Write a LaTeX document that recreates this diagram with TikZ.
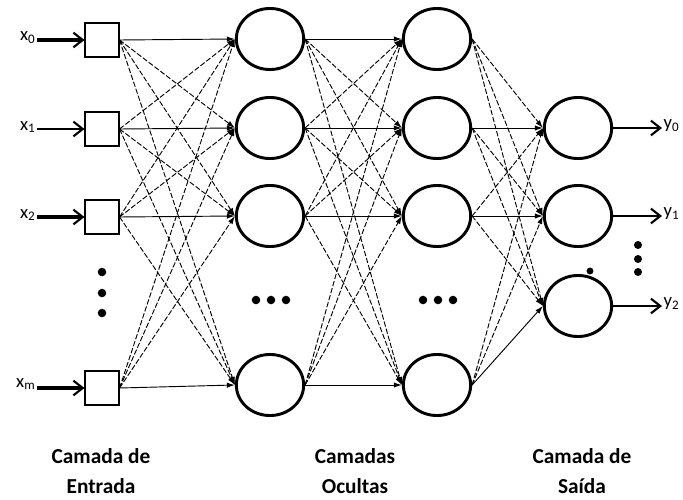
\documentclass[tikz,border=0pt]{standalone}
\usepackage{fontspec}
\setmainfont{Carlito}
\usetikzlibrary{shapes.geometric,arrows.meta}

\tikzset{
  eingang/.style={draw, line width=1.5pt, minimum size=24.8pt, inner sep=0pt},
  neuron/.style={draw, ellipse, line width=2.2pt, minimum width=50.5pt, minimum height=45.8pt, inner sep=0pt},
  verb/.style={line width=0.7pt, -{Latex[length=6pt,width=4pt]}},
  gestrichelt/.style={verb, dash pattern=on 4pt off 1.5pt},
  pfeil/.style={-{Straight Barb[length=7pt,width=11pt,line width=1.6pt]}},
  beschr/.style={font=\fontsize{14}{16}\selectfont, inner sep=1pt},
  schicht/.style={align=center, font=\bfseries\fontsize{16}{22.5}\selectfont}
}

\begin{document}
\begin{tikzpicture}[x=0.75pt, y=-0.75pt]
    \useasboundingbox (0,0) rectangle (683,500);
    % Eingangsschicht
    \foreach \i/\y in {0/40, 1/129, 2/217, 3/388}
        \node[eingang] (e\i) at (102,\y) {};
    % versteckte Schichten
    \foreach \i/\y in {0/39, 1/128, 2/216, 3/385} {
        \node[neuron] (h\i) at (270,\y) {};
        \node[neuron] (k\i) at (437,\y) {};
    }
    % Ausgangsschicht
    \foreach \i/\y in {1/128, 2/216, 3/306}
        \node[neuron] (a\i) at (578,\y) {};

    % Eingaenge
    \node[beschr, anchor=east] (x0) at (37,38) {x\textsubscript{0}};
    \node[beschr, anchor=east] (x1) at (37,127) {x\textsubscript{1}};
    \node[beschr, anchor=east] (x2) at (37,215) {x\textsubscript{2}};
    \node[beschr, anchor=east] (x3) at (37,384) {x\textsubscript{m}};
    \draw[pfeil, line width=3pt] (x0.east |- e0) -- (e0);
    \draw[pfeil, line width=1pt] (x1.east |- e1) -- (e1);
    \draw[pfeil, line width=2.4pt] (x2.east |- e2) -- (e2);
    \draw[pfeil, line width=3pt] (x3.east |- e3) -- (e3);

    % Ausgaenge
    \node[beschr, anchor=west] (y0) at (662,126) {y\textsubscript{0}};
    \node[beschr, anchor=west] (y1) at (662,214) {y\textsubscript{1}};
    \node[beschr, anchor=west] (y2) at (662,304) {y\textsubscript{2}};
    \draw[pfeil, line width=1pt] (a1) -- (y0.west |- a1);
    \draw[pfeil, line width=1.8pt] (a2) -- (y1.west |- a2);
    \draw[pfeil, line width=1.8pt] (a3) -- (y2.west |- a3);

    % Verbindungen: gleiche Zeile durchgezogen, sonst gestrichelt
    \foreach \i in {0,...,3} {
        \draw[verb] (e\i.east) -- (h\i.west);
        \draw[verb] (h\i.east) -- (k\i.west);
        \foreach \j in {0,...,3} {
            \ifnum\i=\j\else
                \draw[gestrichelt] (e\i.east) -- (h\j.west);
                \draw[gestrichelt] (h\i.east) -- (k\j.west);
            \fi
        }
        \foreach \j in {1,2,3} {
            \ifnum\i=\j
                \draw[verb] (k\i.east) -- (a\j.west);
            \else
                \draw[gestrichelt] (k\i.east) -- (a\j.west);
            \fi
        }
    }

    % Punkte
    \foreach \y in {272, 293, 313}
        \fill (102,\y) circle (3.2pt);
    \foreach \x in {256, 271, 286} {
        \fill (\x,300) circle (3.2pt);
        \fill (\x+167,300) circle (3.2pt);
    }
    \foreach \y in {245, 259, 272}
        \fill (638,\y) circle (3pt);
    \fill (590,271) circle (2.6pt);

    % Schichtnamen
    \node[schicht] (l0) at (101,471) {Camada de\\Entrada};
    \node[schicht] (l1) at (355,471) {Camadas\\Ocultas};
    \node[schicht] (l2) at (582,471) {Camada de\\Saída};
\end{tikzpicture}
\end{document}
